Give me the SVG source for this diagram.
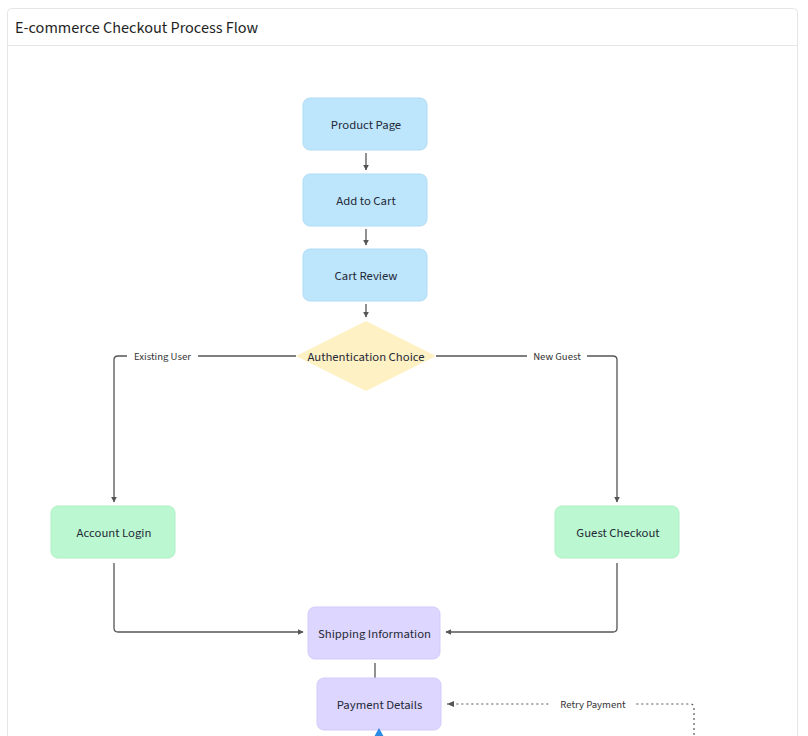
<svg xmlns="http://www.w3.org/2000/svg" width="808" height="736" viewBox="0 0 808 736">
<defs>
<marker id="ah" viewBox="0 0 10 10" refX="9" refY="5" markerWidth="6" markerHeight="6" orient="auto-start-reverse" markerUnits="userSpaceOnUse">
<path d="M0,0 L10,5 L0,10 z" fill="#555"/>
</marker>
<style>
.lbl{font-family:"Source Sans 3","Lato","Noto Sans",sans-serif;font-size:12.7px;fill:#1f2937;text-anchor:middle;dominant-baseline:central}
.el{font-family:"Source Sans 3","Lato","Noto Sans",sans-serif;font-size:10.7px;fill:#333;text-anchor:middle;dominant-baseline:central}
.blue{fill:#bde5fb;stroke:#b0dcf6;stroke-width:1}
.green{fill:#bbf7d0;stroke:#aef0c4;stroke-width:1}
.purple{fill:#ddd6fe;stroke:#d3cbfb;stroke-width:1}
.yellow{fill:#fef1c3}
.c{fill:none;stroke:#555;stroke-width:1.3;marker-end:url(#ah)}
.cn{fill:none;stroke:#555;stroke-width:1.3}
.d{fill:none;stroke:#555;stroke-width:1.2;stroke-dasharray:2 3}
</style>
</defs>
<rect x="0" y="0" width="808" height="736" fill="#ffffff"/>
<rect x="7.5" y="8.5" width="790" height="740" rx="4" fill="#fff" stroke="#e6e6e6"/>
<line x1="8" y1="45.5" x2="797" y2="45.5" stroke="#e6e6e6"/>
<text x="15" y="27.5" font-family="'Source Sans 3','Lato','Noto Sans',sans-serif" font-size="16.2" fill="#1f1f1f" dominant-baseline="central">E-commerce Checkout Process Flow</text>

<g id="connectors">
<line class="c" x1="366" y1="153" x2="366" y2="170"/>
<line class="c" x1="366" y1="229" x2="366" y2="245"/>
<line class="c" x1="366" y1="304" x2="366" y2="317"/>
<path class="c" d="M296,356 H118 Q114,356 114,360 V502"/>
<path class="c" d="M436,356 H613 Q617,356 617,360 V502"/>
<path class="c" d="M114,563 V628 Q114,632 118,632 H303"/>
<path class="c" d="M617,563 V628 Q617,632 613,632 H446"/>
<line class="cn" x1="375" y1="663" x2="375" y2="678"/>
<path class="d" d="M694,740 V708 Q694,704 690,704 H447"/>
<path d="M447,704 l7,-3 v6 z" fill="#555"/>
<rect x="127" y="349" width="71" height="14" fill="#fff"/>
<text class="el" x="162.5" y="356">Existing User</text>
<rect x="527" y="349" width="60" height="14" fill="#fff"/>
<text class="el" x="557" y="356">New Guest</text>
<rect x="550" y="697" width="86" height="14" fill="#fff"/>
<text class="el" x="593" y="704">Retry Payment</text>
</g>

<g id="product-page"><rect class="blue" x="303" y="98" width="124" height="52" rx="7"/><text class="lbl" x="366" y="125">Product Page</text></g>
<g id="add-to-cart"><rect class="blue" x="303" y="174" width="124" height="52" rx="7"/><text class="lbl" x="366" y="201">Add to Cart</text></g>
<g id="cart-review"><rect class="blue" x="303" y="249" width="124" height="52" rx="7"/><text class="lbl" x="366" y="276">Cart Review</text></g>
<g id="auth-choice"><polygon class="yellow" points="366,321 436,356 366,391 296,356"/><text class="lbl" x="366" y="357">Authentication Choice</text></g>
<g id="account-login"><rect class="green" x="51" y="506" width="124" height="52" rx="7"/><text class="lbl" x="114" y="533">Account Login</text></g>
<g id="guest-checkout"><rect class="green" x="555" y="506" width="124" height="52" rx="7"/><text class="lbl" x="618" y="533">Guest Checkout</text></g>
<g id="shipping-information"><rect class="purple" x="308" y="607" width="132" height="52" rx="7"/><text class="lbl" x="374.5" y="634">Shipping Information</text></g>
<g id="payment-details"><rect class="purple" x="317" y="678" width="124" height="52" rx="7"/><text class="lbl" x="379.5" y="705">Payment Details</text></g>
<path d="M379,728 l-5,9 h10 z" fill="#2b8ce6"/>
</svg>
